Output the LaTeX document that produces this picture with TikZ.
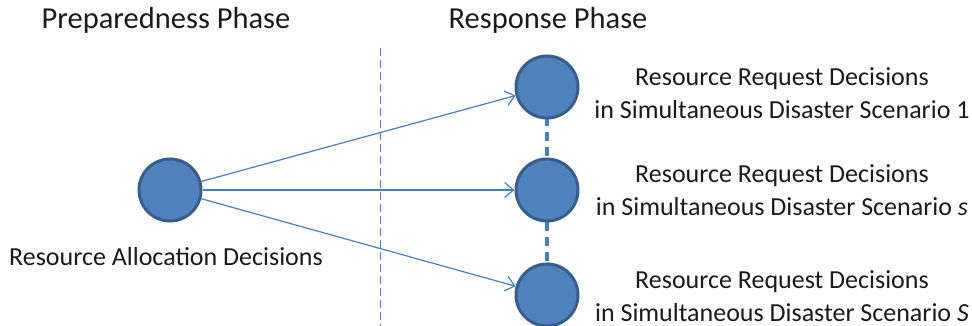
\documentclass[tikz,border=0pt]{standalone}
\usepackage{fontspec}
\setmainfont{Carlito}
\usetikzlibrary{arrows.meta}
\definecolor{cfill}{HTML}{4F81BD}
\definecolor{cedge}{HTML}{385D8A}
\definecolor{cline}{HTML}{4A7EBB}
\definecolor{ctext}{HTML}{1A1A1A}
\tikzset{
  dot/.style={circle,fill=cfill,draw=cedge,line width=3pt,minimum size=62pt,inner sep=0pt},
  arr/.style={draw=cline,line width=1.2pt,-{Straight Barb[length=9pt,width=15pt,line width=1.2pt]}},
  sep/.style={draw=cline,line width=1pt,dash pattern=on 8pt off 4pt},
  link/.style={draw=cline,line width=4pt,dash pattern=on 9pt off 6pt},
  body/.style={text=ctext,font=\fontsize{26}{33}\selectfont,align=center,inner sep=0pt},
  ttl/.style={text=ctext,font=\fontsize{30.5}{36}\selectfont,inner sep=0pt}
}
\begin{document}
\begin{tikzpicture}[x=1pt,y=-1pt]
\useasboundingbox (0,0) rectangle (972,326);
\node[ttl] (t1) at (166,20) {Preparedness Phase};
\node[ttl] (t2) at (548,20) {Response Phase};
\coordinate (s1) at (380,48);
\coordinate (s2) at (380,330);
\draw[sep] (s1) -- (s2);
\coordinate (c1) at (547,87);
\coordinate (c3) at (547,295);
\draw[link] (c1) -- (c3);
\node[dot] (L) at (170,190) {};
\node[dot] (R1) at (547,87) {};
\node[dot] (R2) at (547,190) {};
\node[dot] (R3) at (547,295) {};
\draw[arr] (L) -- (R1);
\draw[arr] (L) -- (R2);
\draw[arr] (L) -- (R3);
\node[body] (lL) at (166,257) {Resource Allocation Decisions};
\node[body] (l1) at (782,93) {Resource Request Decisions\\in Simultaneous Disaster Scenario 1};
\node[body] (l2) at (782,190) {Resource Request Decisions\\in Simultaneous Disaster Scenario \emph{s}};
\node[body] (l3) at (782,296) {Resource Request Decisions\\in Simultaneous Disaster Scenario \emph{S}};
\end{tikzpicture}
\end{document}
